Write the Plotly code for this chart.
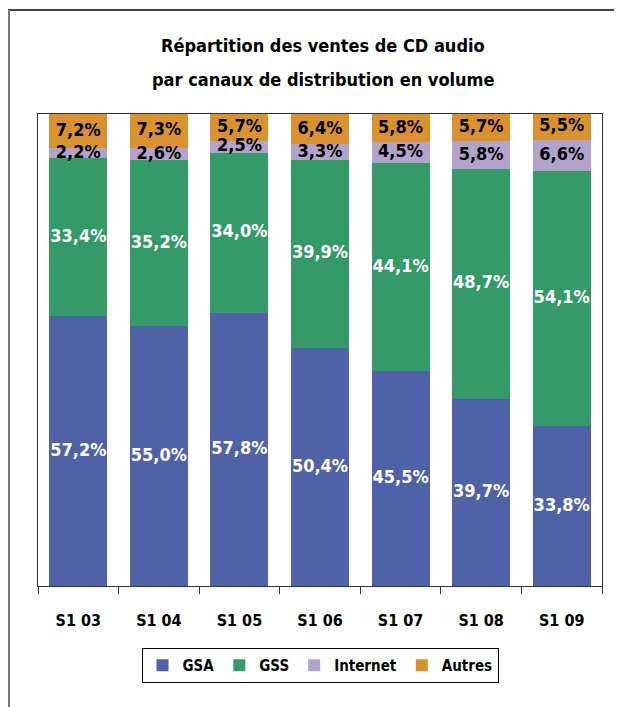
import plotly.graph_objects as go
import numpy as np

categories = ["S1 03", "S1 04", "S1 05", "S1 06", "S1 07", "S1 08", "S1 09"]
gsa = [57.2, 55.0, 57.8, 50.4, 45.5, 39.7, 33.8]
gss = [33.4, 35.2, 34.0, 39.9, 44.1, 48.7, 54.1]
internet = [2.2, 2.6, 2.5, 3.3, 4.5, 5.8, 6.6]
autres = [7.2, 7.3, 5.7, 6.4, 5.8, 5.7, 5.5]
title_lines = ["Répartition des ventes de CD audio", "par canaux de distribution en volume"]

series = [
    ("GSA", gsa, "#4F62A8", "white"),
    ("GSS", gss, "#349A68", "white"),
    ("Internet", internet, "#B3A2C9", "black"),
    ("Autres", autres, "#DA922F", "black"),
]

FONT = "DejaVu Sans Condensed, Roboto Condensed, Roboto, sans-serif"

# page pixel -> paper coords (plot area spans x 38..602, y 114..586 on the page)
def px(x):
    return (x - 38) / 564

def py(y):
    return (586 - y) / 472

fig = go.Figure()
base = np.zeros(len(categories))
label_traces = []
for name, vals, color, tcol in series:
    v = np.array(vals)
    fig.add_trace(go.Bar(x=categories, y=vals, name=f"<b>{name}</b>",
                         marker=dict(color=color, line=dict(width=0)), hoverinfo="skip"))
    centers = base + v / 2
    texts = ["<b>" + f"{x:.1f}%".replace(".", ",") + "</b>" for x in vals]
    label_traces.append(go.Scatter(x=categories, y=centers, mode="text", text=texts,
                                   textfont=dict(family=FONT, size=18, color=tcol),
                                   showlegend=False, hoverinfo="skip", cliponaxis=False))
    base = base + v
for t in label_traces:
    fig.add_trace(t)

annotations = [
    dict(text=f"<b>{line}</b>", xref="paper", yref="paper", x=px(323), y=py(yc),
         xanchor="center", yanchor="middle", showarrow=False,
         font=dict(family=FONT, size=18, color="black"))
    for line, yc in zip(title_lines, [46, 80])
]

fig.update_layout(
    width=614, height=699,
    barmode="stack", bargap=0.28,
    margin=dict(l=30, r=20, t=106, b=121),
    paper_bgcolor="white", plot_bgcolor="white",
    font=dict(family=FONT, color="black", size=16),
    annotations=annotations,
    legend=dict(orientation="h", x=px(320), xanchor="center", y=py(648), yanchor="top",
                bordercolor="black", borderwidth=1, font=dict(family=FONT, size=15, color="black"),
                traceorder="normal", itemwidth=30),
    xaxis=dict(showline=True, linecolor="#333", linewidth=1, mirror=True, ticks="outside",
               tickson="boundaries", ticklen=7, tickcolor="#333",
               tickvals=categories, ticktext=[f"<b>{c}</b>" for c in categories],
               tickfont=dict(family=FONT, size=16, color="black"), ticklabelstandoff=20),
    yaxis=dict(range=[0, 100], showline=True, linecolor="#333", linewidth=1, mirror=True,
               showticklabels=False, showgrid=False, zeroline=False, ticks=""),
    shapes=[dict(type="line", xref="paper", yref="paper",
                 x0=px(8), x1=px(640), y0=py(10), y1=py(10),
                 line=dict(color="#444", width=2)),
            dict(type="line", xref="paper", yref="paper",
                 x0=px(9), x1=px(9), y0=py(10), y1=py(720),
                 line=dict(color="#777", width=2))],
)
fig.write_html("out.html")
